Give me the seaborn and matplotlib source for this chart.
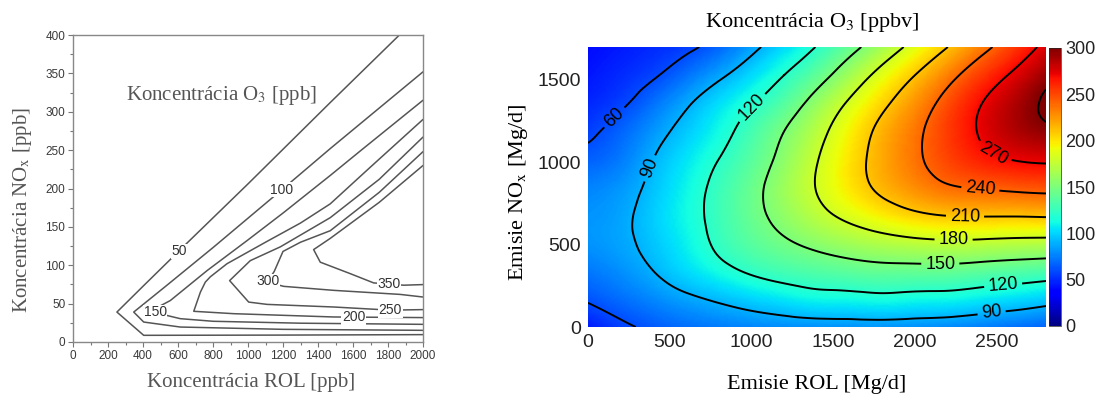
import numpy as np
import matplotlib
matplotlib.use('Agg')
import matplotlib.pyplot as plt
import matplotlib.tri as mtri
import seaborn as sns

# ---------- lavy graf: izoplety O3 [ppb], body odcitane z obrazku ----------
rol_50 = [2000, 1200, 404, 251, 404, 556, 661, 1000, 1470, 1865]
nox_50 = [9.6, 9.0, 8.7, 39, 73.5, 107.5, 131, 206, 312, 400]
rol_100 = [2000, 1200, 613, 404, 347, 537, 800, 1194, 1470, 2000]
nox_100 = [15.2, 16.5, 19.5, 26, 39, 74, 123, 198.5, 252, 352]
rol_150 = [2000, 1300, 800, 613, 547, 440, 556, 766, 994, 1200, 1470, 1642, 2000]
nox_150 = [23, 24.5, 27, 30.4, 34, 40, 54, 93, 132, 168, 217, 249, 315]
rol_200 = [2000, 1490, 918, 690, 728, 756, 785, 880, 1100, 1300, 1470, 1700, 2000]
nox_200 = [31.8, 32.6, 36.9, 40, 65, 78, 85, 102, 130, 155, 180, 228, 290]
rol_250 = [2000, 1813, 1490, 1109, 1004, 895, 1013, 1185, 1470, 1750, 2000]
nox_250 = [42.2, 41.5, 45.6, 49, 52, 80, 106, 124, 162, 212, 267]
rol_300 = [2000, 1870, 1490, 1204, 1110, 1150, 1200, 1300, 1470, 1750, 2000]
nox_300 = [58.6, 62, 67.3, 72.5, 78, 92, 118, 130, 145, 195, 248]
rol_350 = [2000, 1890, 1718, 1585, 1413, 1375, 1470, 1750, 2000]
nox_350 = [74.8, 74, 77, 89, 104, 120.4, 135, 182, 230]

left_lines = [(rol_50, nox_50), (rol_100, nox_100), (rol_150, nox_150),
              (rol_200, nox_200), (rol_250, nox_250), (rol_300, nox_300),
              (rol_350, nox_350)]
left_labels = ['50', '100', '150', '200', '250', '300', '350']
left_lab_x = [607, 1194, 470, 1603, 1813, 1112, 1804]
left_lab_y = [118, 198.5, 39, 32, 41.5, 79, 75]

# ---------- pravy graf: koncentracia O3 [ppbv] na mriezke emisii ----------
emis_rol = [0, 200, 400, 600, 800, 1000, 1200, 1400, 1600, 1800, 2000, 2200, 2400, 2600, 2800]
emis_nox = [0, 170, 340, 510, 680, 850, 1020, 1190, 1360, 1530, 1700]
o3_0 = [45, 56, 64, 70, 74, 77, 79, 80, 81, 81, 80, 78, 75, 71, 67]
o3_170 = [62, 70, 78, 86, 93, 100, 106, 111, 112, 114, 112, 111, 107, 103, 98]
o3_340 = [73, 80, 90, 102, 113, 123, 130, 135, 139, 142, 142, 142, 139, 136, 133]
o3_510 = [81, 86, 96, 109, 124, 137, 147, 156, 164, 170, 174, 176, 175, 173, 172]
o3_680 = [81, 86, 98, 112, 127, 143, 158, 173, 186, 197, 206, 211, 212, 212, 213]
o3_850 = [76, 82, 95, 110, 126, 143, 162, 181, 199, 215, 228, 238, 242, 245, 247]
o3_1020 = [66, 74, 90, 105, 120, 137, 157, 179, 200, 219, 236, 251, 263, 271, 274]
o3_1190 = [56, 67, 82, 97, 112, 130, 150, 172, 195, 216, 235, 254, 272, 286, 295]
o3_1360 = [49, 57, 71, 87, 103, 118, 136, 159, 183, 205, 226, 248, 269, 286, 304]
o3_1530 = [44, 50, 58, 71, 86, 102, 120, 140, 164, 188, 210, 232, 254, 273, 292]
o3_1700 = [40, 45, 50, 56, 68, 85, 102, 121, 142, 165, 188, 210, 232, 254, 276]

levels = [60, 90, 120, 150, 180, 210, 240, 270, 300]
right_lab_x = [159, 357, 998, 2468, 2538, 2154, 2235, 2305, 2398, 2469]
right_lab_y = [1275, 971, 1336, 81, 253, 385, 530, 672, 830, 1032]

sns.set_style('white')
plt.rcParams['font.family'] = ['Liberation Sans', 'DejaVu Sans']
plt.rcParams['mathtext.fontset'] = 'stix'
SERIF = 'Liberation Serif'

W, H = 1096, 394
fig = plt.figure(figsize=(W / 100, H / 100), dpi=100)

def box(l, t, r, b):
    return [l / W, 1 - b / H, (r - l) / W, (b - t) / H]

# lavy
axL = fig.add_axes(box(73, 35, 423, 342))
for xs, ys in left_lines:
    sns.lineplot(x=xs, y=ys, sort=False, estimator=None, ax=axL,
                 color='#555555', lw=1.1)
for t, x, y in zip(left_labels, left_lab_x, left_lab_y):
    axL.text(x, y, t, ha='center', va='center', fontsize=10, color='#333333',
             bbox=dict(fc='white', ec='none', pad=0.4))
axL.set_xlim(0, 2000)
axL.set_ylim(0, 400)
axL.set_xticks(range(0, 2001, 200))
axL.set_xticks(range(100, 2000, 200), minor=True)
axL.set_yticks(range(0, 401, 50))
axL.set_yticks(range(25, 400, 50), minor=True)
axL.tick_params(which='both', bottom=True, left=True, direction='out',
                color='#777777', width=0.8, labelsize=8.5, labelcolor='#3a3a3a', pad=2)
axL.tick_params(which='major', length=3.5)
axL.tick_params(which='minor', length=2)
for s in axL.spines.values():
    s.set_color('#888888')
    s.set_linewidth(1.0)
axL.set_xlabel('')
axL.set_ylabel('')
axL.text(305, 321, 'Koncentrácia O$_3$ [ppb]', ha='left', va='center',
         fontsize=15, family=SERIF, color='#555555')
fig.text(251 / W, 1 - 383 / H, 'Koncentrácia ROL [ppb]', ha='center', va='center',
         fontsize=15, family=SERIF, color='#555555')
fig.text(23 / W, 1 - 210 / H, r'Koncentrácia NO$_\mathrm{x}$ [ppb]', ha='center',
         va='center', rotation=90, fontsize=15, family=SERIF, color='#555555')

# pravy: mriezka -> triangulacia, hladke kreslenie cez UniformTriRefiner
o3 = np.array([o3_0, o3_170, o3_340, o3_510, o3_680, o3_850, o3_1020,
               o3_1190, o3_1360, o3_1530, o3_1700], dtype=float)
gx, gy = np.meshgrid(emis_rol, emis_nox)
tri = mtri.Triangulation(gx.ravel() / 2800.0, gy.ravel() / 1700.0)
interp = mtri.CubicTriInterpolator(tri, o3.ravel(), kind='min_E')
tri_f, o3_f = mtri.UniformTriRefiner(tri).refine_field(o3.ravel(), triinterpolator=interp,
                                                        subdiv=4)
tri_f = mtri.Triangulation(tri_f.x * 2800.0, tri_f.y * 1700.0, tri_f.triangles)

axR = fig.add_axes(box(588, 47, 1046, 327))
im = axR.tripcolor(tri_f, o3_f, cmap='jet', vmin=0, vmax=300, shading='gouraud',
                   rasterized=True)
cs = axR.tricontour(tri_f, o3_f, levels=levels, colors='black', linewidths=1.4)
axR.clabel(cs, levels=levels[:-1], manual=list(zip(right_lab_x, right_lab_y)),
           inline=True, fmt='%d', fontsize=13, inline_spacing=4)
axR.set_xlim(0, 2800)
axR.set_ylim(0, 1700)
axR.set_xticks(range(0, 2501, 500))
axR.set_yticks(range(0, 1501, 500))
axR.tick_params(length=0, labelsize=14, labelcolor='#222222', pad=5)
for s in axR.spines.values():
    s.set_visible(False)

cax = fig.add_axes(box(1049, 48, 1061, 326))
cb = fig.colorbar(im, cax=cax, ticks=range(0, 301, 50))
cb.ax.tick_params(labelsize=13, length=0, pad=3, labelcolor='#222222')
cb.outline.set_linewidth(0.5)

fig.text(812 / W, 1 - 22 / H, 'Koncentrácia O$_3$ [ppbv]', ha='center', va='center',
         fontsize=16, family=SERIF, color='black')
fig.text(817 / W, 1 - 384 / H, 'Emisie ROL [Mg/d]', ha='center', va='center',
         fontsize=16, family=SERIF, color='black')
fig.text(519 / W, 1 - 192 / H, r'Emisie NO$_\mathrm{x}$ [Mg/d]', ha='center',
         va='center', rotation=90, fontsize=16, family=SERIF, color='black')

fig.savefig('out.png', dpi=100, facecolor='white')
